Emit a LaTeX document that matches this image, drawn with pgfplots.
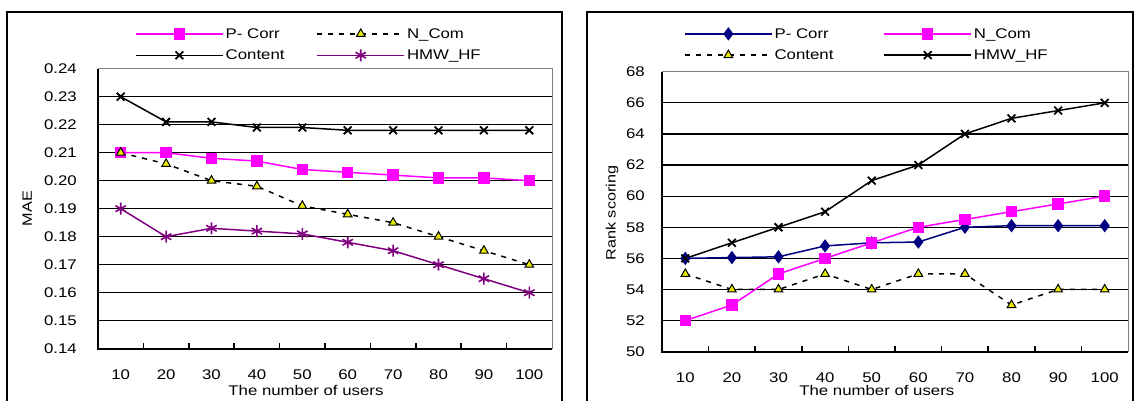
\documentclass[border=0pt]{standalone}
\usepackage{pgfplots}
\pgfplotsset{compat=1.18}
\usepackage{fontspec}
\setmainfont{Liberation Sans}[FakeStretch=1.2]
\definecolor{mag}{HTML}{FF00FF}
\definecolor{purp}{HTML}{800080}
\definecolor{navyb}{HTML}{000080}
\definecolor{yel}{HTML}{E8E800}
\definecolor{framegray}{HTML}{808080}

\pgfplotsset{
  excel/.style={
    scale only axis,
    xmin=0.5, xmax=10.5,
    xtick={1,...,10},
    xticklabels={10,20,30,40,50,60,70,80,90,100},
    major x tick style={draw=none},
    minor xtick={1.5,2.5,...,9.5},
    minor tick length=6pt,
    minor x tick style={black, line width=1.5pt},
    tick align=inside,
    xtick pos=bottom,
    ytick pos=left,
    major y tick style={draw=none},
    axis line style={framegray, line width=0.8pt},
    major grid style={black, line width=1.2pt},
    tick label style={font=\fontsize{14}{16}\selectfont},
    legend cell align=left,
    legend columns=2,
    legend style={font=\fontsize{14}{16}\selectfont, draw=none, fill=none, inner sep=0pt, anchor=north west, row sep=6pt},
    legend image code/.code={\draw[mark repeat=2,mark phase=2] plot coordinates {(0pt,0pt) (43.5pt,0pt) (87pt,0pt)};},
    xticklabel style={inner sep=0pt, anchor=north, yshift=-21pt},
    /pgf/number format/assume math mode=true,
    after end axis/.code={\draw[black, line width=2pt] (rel axis cs:0,1) -- (rel axis cs:0,0) -- (rel axis cs:1,0);},
  }
}

\begin{document}
\begin{tikzpicture}[x=1pt,y=1pt]
\useasboundingbox (0,0) rectangle (1134,401);
\draw[black, line width=1.5pt] (7,-10) rectangle (562,389);
\draw[black, line width=1.5pt] (587,-10) rectangle (1133,389);

% ---------------- left: MAE ----------------
\begin{axis}[excel,
  at={(98pt,52.3pt)}, anchor=south west,
  width=454pt, height=280pt,
  ymin=0.14, ymax=0.24,
  ytick={0.14,0.15,0.16,0.17,0.18,0.19,0.20,0.21,0.22,0.23,0.24},
  yticklabels={0.14,0.15,0.16,0.17,0.18,0.19,0.20,0.21,0.22,0.23,0.24},
  yticklabel style={inner sep=0pt, anchor=east, xshift=-21pt},
  extra y ticks={0.15,0.16,0.17,0.18,0.19,0.20,0.21,0.22,0.23},
  extra y tick labels={},
  extra y tick style={grid=major},
  ylabel={MAE},
  every axis y label/.style={at={(axis description cs:-0.156,0.5)}, rotate=90, anchor=center, font=\fontsize{13.5}{16}\selectfont},
  xlabel={The number of users},
  every axis x label/.style={at={(axis description cs:0.458,0)}, anchor=north, inner sep=0pt, yshift=-36pt, font=\fontsize{14}{16}\selectfont},
  legend style={at={(axis description cs:0.0815,1.152)}, /tikz/every even column/.append style={column sep=30pt}},
]
\addplot[mag, line width=1.5pt, mark=square*, mark size=5pt, mark options={fill=mag, solid}] coordinates {
(1,0.210) (2,0.210) (3,0.208) (4,0.207) (5,0.204) (6,0.203) (7,0.202) (8,0.201) (9,0.201) (10,0.200)};
\addlegendentry{P- Corr}
\addplot[black, line width=1.5pt, dash pattern=on 5pt off 6pt, mark=triangle*, mark size=5pt, mark options={fill=yel, draw=black, solid, line width=1pt}] coordinates {
(1,0.210) (2,0.206) (3,0.200) (4,0.198) (5,0.191) (6,0.188) (7,0.185) (8,0.180) (9,0.175) (10,0.170)};
\addlegendentry{N\_Com}
\addplot[black, line width=1.5pt, mark=x, mark size=5.5pt, mark options={solid, line width=1.8pt}] coordinates {
(1,0.230) (2,0.221) (3,0.221) (4,0.219) (5,0.219) (6,0.218) (7,0.218) (8,0.218) (9,0.218) (10,0.218)};
\addlegendentry{Content}
\addplot[purp, line width=1.5pt, mark=asterisk, mark size=6pt, mark options={solid, line width=1.6pt}] coordinates {
(1,0.190) (2,0.180) (3,0.183) (4,0.182) (5,0.181) (6,0.178) (7,0.175) (8,0.170) (9,0.165) (10,0.160)};
\addlegendentry{HMW\_HF}
\end{axis}

% ---------------- right: Rank scoring ----------------
\begin{axis}[excel,
  at={(662pt,49.3pt)}, anchor=south west,
  width=466pt, height=280pt,
  ymin=50, ymax=68,
  ytick={50,52,54,56,58,60,62,64,66,68},
  yticklabels={50,52,54,56,58,60,62,64,66,68},
  yticklabel style={inner sep=0pt, anchor=east, xshift=-17pt},
  extra y ticks={52,54,56,58,60,62,64,66},
  extra y tick labels={},
  extra y tick style={grid=major},
  ylabel={Rank scoring},
  every axis y label/.style={at={(axis description cs:-0.107,0.495)}, rotate=90, anchor=center, font=\fontsize{13.5}{16}\selectfont},
  xlabel={The number of users},
  every axis x label/.style={at={(axis description cs:0.461,0)}, anchor=north, inner sep=0pt, yshift=-33pt, font=\fontsize{14}{16}\selectfont},
  legend style={at={(axis description cs:0.047,1.163)}, /tikz/every even column/.append style={column sep=48pt}},
]
\addplot[navyb, line width=1.5pt, mark=diamond*, mark size=5.5pt, mark options={fill=navyb, solid}] coordinates {
(1,56.0) (2,56.05) (3,56.1) (4,56.8) (5,57.0) (6,57.05) (7,58.0) (8,58.1) (9,58.1) (10,58.1)};
\addlegendentry{P- Corr}
\addplot[mag, line width=1.5pt, mark=square*, mark size=5pt, mark options={fill=mag, solid}] coordinates {
(1,52.0) (2,53.0) (3,55.0) (4,56.0) (5,57.0) (6,58.0) (7,58.5) (8,59.0) (9,59.5) (10,60.0)};
\addlegendentry{N\_Com}
\addplot[black, line width=1.5pt, dash pattern=on 5pt off 6pt, mark=triangle*, mark size=5pt, mark options={fill=yel, draw=black, solid, line width=1pt}] coordinates {
(1,55) (2,54) (3,54) (4,55) (5,54) (6,55) (7,55) (8,53) (9,54) (10,54)};
\addlegendentry{Content}
\addplot[black, line width=1.5pt, mark=x, mark size=5.5pt, mark options={solid, line width=1.8pt}] coordinates {
(1,56.0) (2,57.0) (3,58.0) (4,59.0) (5,61.0) (6,62.0) (7,64.0) (8,65.0) (9,65.5) (10,66.0)};
\addlegendentry{HMW\_HF}
\end{axis}
\end{tikzpicture}
\end{document}
